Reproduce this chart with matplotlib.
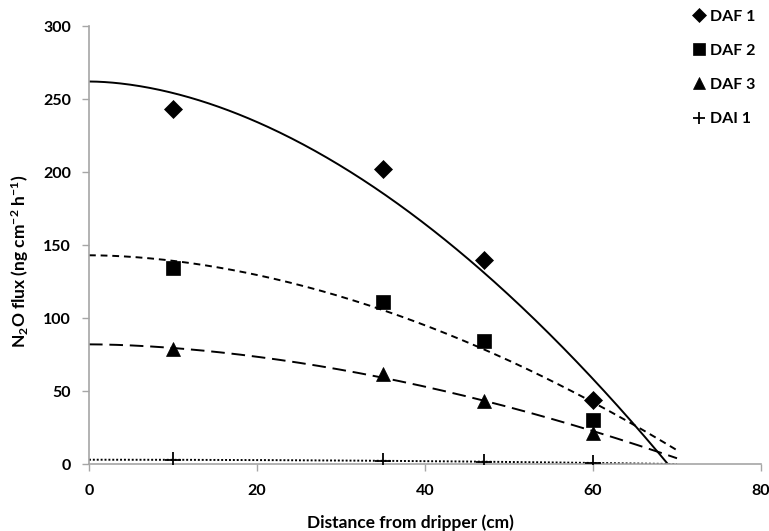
import numpy as np
import matplotlib
matplotlib.use("Agg")
import matplotlib.pyplot as plt
from matplotlib.lines import Line2D

plt.rcParams.update({
    "font.family": ["Lato", "DejaVu Sans"],
    "font.weight": "bold",
    "font.size": 10,
    "mathtext.fontset": "custom",
    "mathtext.rm": "Lato:bold",
    "mathtext.default": "rm",
})

# ── Data ───────────────────────────────────────────────────────
distance = [10, 35, 47, 60]
daf1 = [243, 202, 140, 44]
daf2 = [134, 111, 84, 30]
daf3 = [79, 62, 43, 21]
dai1 = [3, 2, 1.5, 1]

labels = ["DAF 1", "DAF 2", "DAF 3", "DAI 1"]
# fitted curves  y = A - B * x**n   (0 <= x <= 70)
fit_A = [262, 143, 82, 3.0]
fit_B = [0.1207, 0.0561, 0.0423, 0.000612]
fit_n = [1.815, 1.83, 1.77, 2.0]
fit_xmax = 70

series = [daf1, daf2, daf3, dai1]
markers = ["D", "s", "^", "+"]
msizes = [9, 10.5, 10.5, 11]
lstyles = ["-", (0, (3.5, 2.5)), (0, (7, 3.5)), (0, (1, 1))]

GREY = "#a6a6a6"

fig = plt.figure(figsize=(7.69, 5.31), dpi=100)
ax = fig.add_axes([0.1157, 0.126, 0.8739, 0.825])

xs = np.linspace(0, fit_xmax, 300)
for A, B, n, ls in zip(fit_A, fit_B, fit_n, lstyles):
    ax.plot(xs, A - B * xs ** n, color="black", lw=1.4, ls=ls, zorder=2)

handles = []
for y, m, ms, lab in zip(series, markers, msizes, labels):
    mew = 1.3 if m == "+" else 0.5
    ax.plot(distance, y, ls="none", marker=m, ms=ms, color="black",
            mew=mew, zorder=3)
    handles.append(Line2D([], [], ls="none", marker=m, color="black",
                          ms=ms * 0.8, mew=mew, label=lab))

ax.set_xlim(0, 80)
ax.set_ylim(0, 300)
ax.set_xticks(np.arange(0, 81, 20))
ax.set_yticks(np.arange(0, 301, 50))
for s in ["top", "right"]:
    ax.spines[s].set_visible(False)
for s in ["left", "bottom"]:
    ax.spines[s].set_color(GREY)
    ax.spines[s].set_linewidth(1.2)
ax.tick_params(axis="both", color=GREY, width=1.0, length=5, labelsize=11.5)
ax.tick_params(axis="x", pad=9)
ax.tick_params(axis="y", pad=8)

ax.set_xlabel("Distance from dripper (cm)", fontsize=12.5, fontweight="bold")
ax.xaxis.set_label_coords(0.478, -0.116)
ax.set_ylabel("N$_2$O flux (ng cm$^{-2}$ h$^{-1}$)", fontsize=12.5,
              fontweight="bold")
ax.yaxis.set_label_coords(-0.086, 0.463)

fig.legend(handles=handles, loc="upper right", bbox_to_anchor=(0.995, 1.0),
           frameon=False, fontsize=11.5, handlelength=0.8, handletextpad=0.3,
           labelspacing=1.25, borderaxespad=0.2)

fig.savefig("out.png", dpi=100)
